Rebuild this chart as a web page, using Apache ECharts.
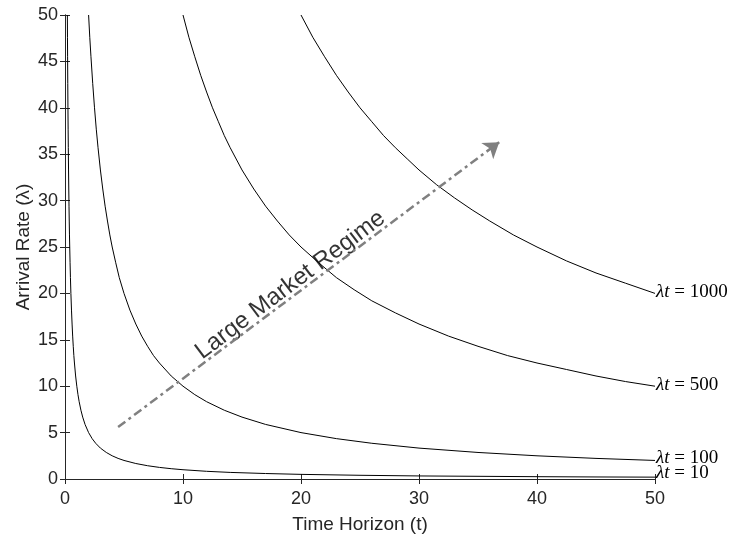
<!DOCTYPE html>
<html>
<head>
<meta charset="utf-8">
<script src="https://cdn.jsdelivr.net/npm/echarts@6/dist/echarts.min.js"></script>
<style>html,body{margin:0;padding:0;background:#fff}#c{width:735px;height:537px}</style>
</head>
<body>
<div id="c"></div>
<script>
// Curve λt = 10
var t10 = [0.2,0.21,0.22,0.235,0.25,0.265,0.28,0.3,0.32,0.34,0.36,0.38,0.4,0.43,0.46,0.5,0.55,0.6,0.65,0.7,0.75,0.8,0.9,1,1.1,1.2,1.35,1.5,1.7,2,2.3,2.6,3,3.5,4,4.5,5,6,7,8,9,10,12,14,17,20,25,30,35,40,45,50];
var l10 = [50,47.6,45.5,42.6,40,37.7,35.7,33.3,31.25,29.4,27.8,26.3,25,23.3,21.7,20,18.2,16.7,15.4,14.3,13.3,12.5,11.1,10,9.09,8.33,7.41,6.67,5.88,5,4.35,3.85,3.33,2.86,2.5,2.22,2,1.67,1.43,1.25,1.11,1,0.83,0.71,0.59,0.5,0.4,0.33,0.29,0.25,0.22,0.2];
// Curve λt = 100
var t100 = [2,2.1,2.2,2.35,2.5,2.65,2.8,3,3.2,3.4,3.6,3.8,4,4.3,4.6,5,5.5,6,6.5,7,7.5,8,9,10,11,12,13.5,15,17,20,23,26,30,35,40,45,50];
var l100 = [50,47.6,45.5,42.6,40,37.7,35.7,33.3,31.25,29.4,27.8,26.3,25,23.3,21.7,20,18.2,16.7,15.4,14.3,13.3,12.5,11.1,10,9.09,8.33,7.41,6.67,5.88,5,4.35,3.85,3.33,2.86,2.5,2.22,2];
// Curve λt = 500
var t500 = [10,10.5,11,11.5,12,12.5,13,13.5,14,15,16,17,18,19,20,21.5,23,24.5,26,28,30,32.5,35,37.5,40,42.5,45,47.5,50];
var l500 = [50,47.6,45.5,43.5,41.7,40,38.5,37,35.7,33.3,31.25,29.4,27.8,26.3,25,23.3,21.7,20.4,19.2,17.9,16.7,15.4,14.3,13.3,12.5,11.8,11.1,10.5,10];
// Curve λt = 1000
var t1000 = [20,21,22,23,24,25,26,27,28,29,30,31.5,33,34.5,36,38,40,42.5,45,47.5,50];
var l1000 = [50,47.6,45.5,43.5,41.7,40,38.5,37,35.7,34.5,33.3,31.7,30.3,29,27.8,26.3,25,23.5,22.2,21.1,20];
var curveLabels = ['λt', 'λt', 'λt', 'λt'];
var curveValues = ['10', '100', '500', '1000'];
// Arrow (Large Market Regime)
var arrowStart = [4.5, 5.6];
var arrowEnd = [36.8, 36.3];
var arrowText = 'Large Market Regime';
var arrowTextPos = [19.1, 20.9];

function zip(a, b) { return a.map(function (v, i) { return [v, b[i]]; }); }

var axisColor = '#262626';
var sans = 'Liberation Sans, Arial, Helvetica, sans-serif';
var serif = 'Liberation Serif, Times New Roman, serif';

function curve(ts, ls, idx, off) {
  return {
    type: 'line', data: zip(ts, ls), showSymbol: false, symbol: 'none',
    smooth: false,
    lineStyle: { color: '#000', width: 1 }, silent: true, animation: false,
    xAxisIndex: 0, yAxisIndex: 0,
    endLabel: {
      show: true, distance: 1, offset: [0, off],
      formatter: '{i|' + curveLabels[idx] + '}{n| = ' + curveValues[idx] + '}',
      rich: {
        i: { fontFamily: serif, fontStyle: 'italic', fontSize: 19, color: '#000' },
        n: { fontFamily: serif, fontSize: 19, color: '#000' }
      }
    }
  };
}

var chart = echarts.init(document.getElementById('c'), null, { renderer: 'canvas' });
var baseX = {
  type: 'value', min: 0, max: 50, interval: 10,
  axisLine: { show: true, lineStyle: { color: axisColor, width: 1 } },
  axisTick: { show: true, inside: true, length: 5, lineStyle: { color: axisColor } },
  splitLine: { show: false }
};
var baseY = {
  type: 'value', min: 0, max: 50, interval: 5,
  axisLine: { show: true, lineStyle: { color: axisColor, width: 1 } },
  axisTick: { show: true, inside: true, length: 5, lineStyle: { color: axisColor } },
  splitLine: { show: false }
};
chart.setOption({
  animation: false,
  grid: { left: 65, right: 80, top: 15, bottom: 58, containLabel: false, outerBoundsMode: 'none' },
  xAxis: [
    Object.assign({}, baseX, {
      position: 'bottom',
      axisLabel: { color: axisColor, fontSize: 18, fontFamily: sans, margin: 11 },
      name: 'Time Horizon (t)', nameLocation: 'middle', nameGap: 36, nameMoveOverlap: false,
      nameTextStyle: { color: axisColor, fontSize: 19, fontFamily: sans }
    }),
    Object.assign({}, baseX, { position: 'top', axisLabel: { show: false } })
  ],
  yAxis: [
    Object.assign({}, baseY, {
      position: 'left',
      axisLabel: { color: axisColor, fontSize: 18, fontFamily: sans, margin: 7 },
      name: 'Arrival Rate (λ)', nameLocation: 'middle', nameGap: 32, nameMoveOverlap: false,
      nameTextStyle: { color: axisColor, fontSize: 19, fontFamily: sans }
    }),
    Object.assign({}, baseY, { position: 'right', axisLabel: { show: false } })
  ],
  series: [
    curve(t10, l10, 0, -4),
    curve(t100, l100, 1, -2),
    curve(t500, l500, 2, -1),
    curve(t1000, l1000, 3, -1),
    {
      type: 'line', data: [], silent: true,
      markLine: {
        silent: true, animation: false,
        symbol: ['none', 'arrow'], symbolSize: 15,
        label: { show: false },
        lineStyle: { color: '#808080', width: 2.5, type: [9, 4, 3, 4] },
        data: [[{ coord: arrowStart }, { coord: arrowEnd }]]
      }
    },
    {
      type: 'scatter', data: [arrowTextPos], symbolSize: 0, silent: true,
      label: {
        show: true, position: 'inside', rotate: 37, formatter: arrowText,
        fontFamily: sans, fontSize: 24, color: '#000'
      }
    }
  ]
});
</script>
</body>
</html>
